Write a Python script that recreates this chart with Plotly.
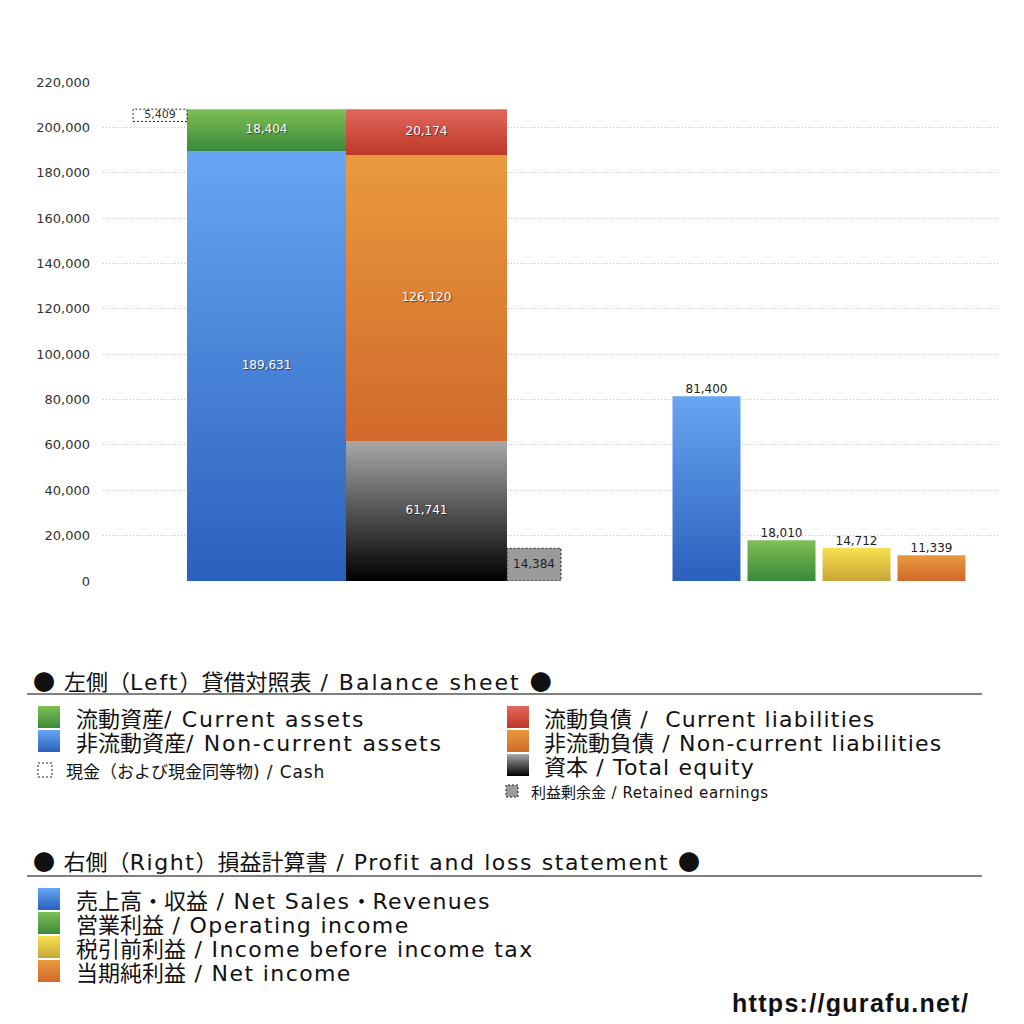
import plotly.graph_objects as go

# Balance sheet (left side), unit: million
bs_current_assets = 18404
bs_noncurrent_assets = 189631
bs_cash = 5409
bs_current_liabilities = 20174
bs_noncurrent_liabilities = 126120
bs_total_equity = 61741
bs_retained_earnings = 14384

# Profit and loss statement (right side)
pl_names = ['売上高・収益', '営業利益', '税引前利益', '当期純利益']
pl_values = [81400, 18010, 14712, 11339]

y_ticks = list(range(0, 220001, 20000))

# gradient colours (bottom, top)
BLUE = ('#2b60bc', '#67a6f2')
GREEN = ('#3a893a', '#7fc056')
RED = ('#bd3828', '#e2685c')
ORANGE = ('#d1692c', '#e99a3d')
BLACK = ('#000000', '#a8a8a8')
YELLOW = ('#c7a537', '#f7e24f')
PL_COLORS = [BLUE, GREEN, YELLOW, ORANGE]

# the page body keeps its default 8px margin, so the figure is 1008px
OFF = 8
W = H = 1024 - 2 * OFF
FONT = 'Noto Sans CJK JP'
LATIN = 'DejaVu Sans'
NUMFONT = 'DejaVu Sans'


def fx(px):
    return (px - OFF) / W


def fy(py):
    return 1 - (py - OFF) / H


def block(x0, x1, y0, y1, colors=None, fill=None, dash=False, axes=('x', 'y')):
    # one rectangle, drawn in data coordinates
    tr = go.Scatter(
        x=[x0, x1, x1, x0, x0], y=[y0, y0, y1, y1, y0],
        xaxis=axes[0], yaxis=axes[1],
        mode='lines', fill='toself', hoverinfo='skip', showlegend=False,
        line=dict(width=1, color='#222', dash='2px,2px') if dash else dict(width=0),
    )
    if colors:
        tr.fillgradient = dict(type='vertical', colorscale=[[0, colors[0]], [1, colors[1]]])
    else:
        tr.fillcolor = fill
    return tr


def label(x, y, value, color='white', size=12, pos='middle center'):
    shadow = '1px 1px 1px rgba(0,0,0,0.55)' if color == 'white' else 'none'
    return go.Scatter(
        x=[x], y=[y], mode='text', text=[f'{value:,}'], textposition=pos,
        textfont=dict(family=NUMFONT, size=size, color=color, shadow=shadow),
        hoverinfo='skip', showlegend=False,
    )


fig = go.Figure()

# --- balance sheet: assets column ---
ax0, ax1 = 187, 346
total_assets = bs_noncurrent_assets + bs_current_assets
fig.add_trace(block(ax0, ax1, 0, bs_noncurrent_assets, BLUE))
fig.add_trace(block(ax0, ax1, bs_noncurrent_assets, total_assets, GREEN))
fig.add_trace(label((ax0 + ax1) / 2, bs_noncurrent_assets / 2, bs_noncurrent_assets))
fig.add_trace(label((ax0 + ax1) / 2, (bs_noncurrent_assets + total_assets) / 2, bs_current_assets))

# cash box, aligned with the top of assets
cx0, cx1 = 133, 187
fig.add_trace(block(cx0, cx1, total_assets - bs_cash, total_assets, fill='white', dash=True))
fig.add_trace(label((cx0 + cx1) / 2, total_assets - bs_cash / 2, bs_cash, color='#333', size=11))

# --- balance sheet: liabilities + equity column ---
lx0, lx1 = 346, 507
eq_top = bs_total_equity
ncl_top = eq_top + bs_noncurrent_liabilities
cl_top = ncl_top + bs_current_liabilities
fig.add_trace(block(lx0, lx1, 0, eq_top, BLACK))
fig.add_trace(block(lx0, lx1, eq_top, ncl_top, ORANGE))
fig.add_trace(block(lx0, lx1, ncl_top, cl_top, RED))
fig.add_trace(label((lx0 + lx1) / 2, eq_top / 2, bs_total_equity))
fig.add_trace(label((lx0 + lx1) / 2, (eq_top + ncl_top) / 2, bs_noncurrent_liabilities))
fig.add_trace(label((lx0 + lx1) / 2, (ncl_top + cl_top) / 2, bs_current_liabilities))

# retained earnings box
rx0, rx1 = 507, 561
fig.add_trace(block(rx0, rx1, 0, bs_retained_earnings, fill='#9b9b9b', dash=True))
fig.add_trace(label((rx0 + rx1) / 2, bs_retained_earnings / 2, bs_retained_earnings, color='#222', size=12))

# --- profit and loss bars ---
px_start, bar_w, step = 672.5, 68, 75
for i, (val, col) in enumerate(zip(pl_values, PL_COLORS)):
    x0 = px_start + i * step
    fig.add_trace(block(x0, x0 + bar_w, 0, val, col))
    fig.add_trace(label(x0 + bar_w / 2, val, val, color='#222', size=12, pos='top center'))

fig.update_layout(
    width=W, height=H,
    margin=dict(l=0, r=0, t=0, b=0),
    paper_bgcolor='white', plot_bgcolor='rgba(0,0,0,0)',
    font=dict(family=FONT, color='#222'),
    showlegend=False,
    xaxis=dict(domain=[fx(103), fx(1000)], range=[103, 1000], visible=False, fixedrange=True),
    yaxis=dict(
        domain=[fy(581), fy(82)], range=[0, 220000],
        tickvals=y_ticks, tickformat=',', ticklabelstandoff=12,
        tickfont=dict(family=NUMFONT, size=13, color='#333'),
        showgrid=True, gridcolor='#c4c4c4', griddash='1px,2px', gridwidth=1,
        zeroline=False, showline=False, automargin=False, fixedrange=True,
    ),
    # page-sized helper axes for the legend swatches (y counted from the bottom)
    xaxis2=dict(domain=[0, 1], range=[OFF, 1024 - OFF], visible=False, fixedrange=True),
    yaxis2=dict(domain=[0, 1], range=[OFF, 1024 - OFF], visible=False, fixedrange=True),
)

# --- legend block below the chart ---
shapes = []
annotations = []


def rich(s, ls):
    # latin runs get a wider font and a little tracking
    out, run, latin = [], '', None
    for ch in s + '\0':
        is_latin = ch.isascii() or ch == '\u00a0'
        if ch == '\0' or (latin is not None and is_latin != latin):
            if latin:
                out.append(f'<span style="font-family:\'{LATIN}\';letter-spacing:{ls}px">{run}</span>')
            else:
                out.append(run)
            run = ''
        run += ch
        latin = is_latin
    return ''.join(out)


def text(x, y, s, size=22, ls=1.7):
    annotations.append(dict(
        x=fx(x), y=fy(y), xref='paper', yref='paper', text=rich(s, ls),
        showarrow=False, xanchor='left', yanchor='middle',
        font=dict(family=FONT, size=size, color='#111'),
    ))


def swatch(x, y, size, colors=None, fill=None, dash=False):
    fig.add_trace(block(x, x + size, 1024 - (y + size / 2), 1024 - (y - size / 2),
                        colors=colors, fill=fill, dash=dash, axes=('x2', 'y2')))


def rule(y):
    shapes.append(dict(type='line', xref='paper', yref='paper',
                       x0=fx(27), x1=fx(982), y0=fy(y), y1=fy(y),
                       line=dict(color='#555', width=1.5)))


text(31, 680, '● 左側（Left）貸借対照表 / Balance sheet ●', ls=2.0)
rule(694)
left_items = [(GREEN, '流動資産/ Current assets'), (BLUE, '非流動資産/ Non-current assets')]
for i, (c, s) in enumerate(left_items):
    swatch(38, 717 + i * 24, 22, c)
    text(74, 717 + i * 24, s)
swatch(38, 770, 14, fill='white', dash=True)
text(64, 770, '現金（および現金同等物) / Cash', size=17, ls=0.9)

right_items = [(RED, '流動負債 /\u00a0 Current liabilities'),
               (ORANGE, '非流動負債 / Non-current liabilities'),
               (BLACK, '資本 / Total equity')]
for i, (c, s) in enumerate(right_items):
    swatch(507, 717 + i * 24, 22, c)
    text(542, 717 + i * 24, s, ls=1.2)
swatch(506, 791, 12, fill='#9b9b9b', dash=True)
text(529, 791, '利益剰余金 / Retained earnings', size=15, ls=0.6)

text(31, 860, '● 右側（Right）損益計算書 / Profit and loss statement ●', ls=1.6)
rule(876)
pl_legend = [s + suffix for s, suffix in zip(
    pl_names, [' / Net Sales・Revenues', ' / Operating income', ' / Income before income tax', ' / Net income'])]
for i, (c, s) in enumerate(zip(PL_COLORS, pl_legend)):
    swatch(38, 899 + i * 24, 22, c)
    text(74, 899 + i * 24, s, ls=1.4)

annotations.append(dict(
    x=fx(971), y=fy(1003), xref='paper', yref='paper',
    text='<b><span style="letter-spacing:1.3px">https://gurafu.net/</span></b>',
    showarrow=False, xanchor='right', yanchor='middle',
    font=dict(family='Liberation Sans', size=25, color='#111'),
))

fig.update_layout(shapes=shapes, annotations=annotations)

fig.write_html('out.html')
